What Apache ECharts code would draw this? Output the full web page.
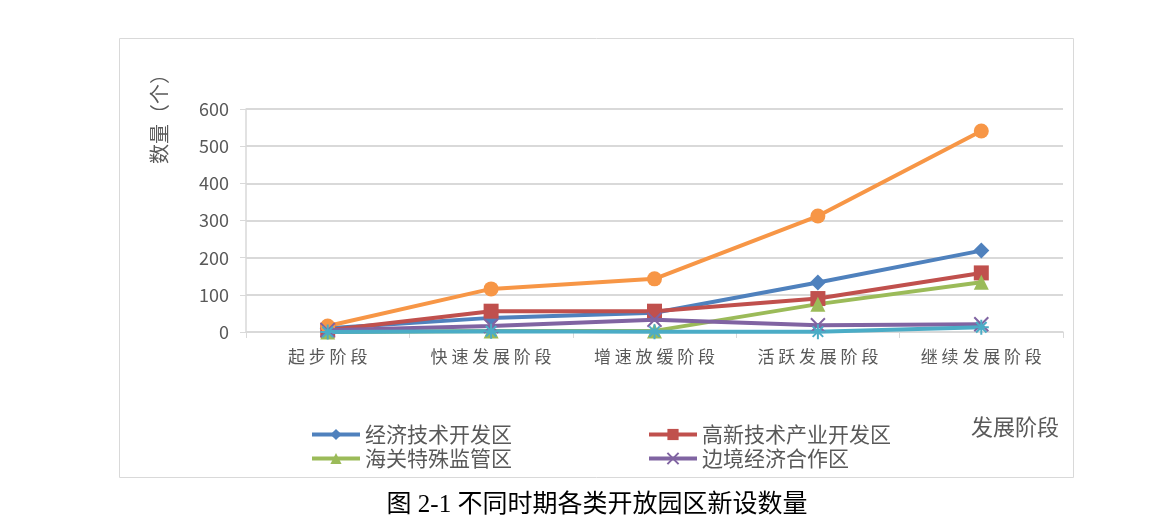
<!DOCTYPE html>
<html><head><meta charset="utf-8">
<script src="https://cdn.jsdelivr.net/npm/echarts@6/dist/echarts.min.js"></script>
<style>html,body{margin:0;padding:0;background:#fff}#c{width:1167px;height:528px}</style>
</head><body><div id="c"></div>
<script>
var categories = ['起步阶段','快速发展阶段','增速放缓阶段','活跃发展阶段','继续发展阶段'];
var yTicks = [0,100,200,300,400,500,600];
var seriesNames = ['经济技术开发区','高新技术产业开发区','海关特殊监管区','边境经济合作区','其他','合计'];
var jjkf = [10, 38, 52, 133, 219];
var gxjs = [5, 56, 56, 90, 159];
var hgtz = [0, 3, 3, 75, 134];
var bjjj = [5, 16, 33, 18, 21];
var other = [0, 2, 1, 1, 13];
var total = [16, 116, 143, 312, 541];

var spaced = function(s){ return s.split('').join(' '); };
var chart = echarts.init(document.getElementById('c'));
var font = '"Noto Sans CJK SC", "Noto Sans", sans-serif';
function mk(name, data, color, symbol, size){
  return {name:name, type:'line', data:data, symbol:symbol, symbolSize:size,
    lineStyle:{color:color,width:4}, itemStyle:{color:color}, z: 2};
}
var legText = {fontSize:21, color:'#595959', fontFamily:font};
chart.setOption({
  animation:false,
  textStyle:{fontFamily:font},
  grid:{left:246, right:104, top:109, bottom:196},
  graphic:[
    {type:'rect', shape:{x:119.5,y:38.5,width:954,height:439}, style:{fill:'none',stroke:'#d9d9d9',lineWidth:1}},
    {type:'text', x:159, y:114, rotation:Math.PI/2, style:{text:'数量（个）', fill:'#595959', font:'20px '+font, align:'center', verticalAlign:'middle'}},
    {type:'text', left:971, top:416, style:{text:'发展阶段', fill:'#595959', font:'22px '+font}},
    {type:'text', x:597, y:505, style:{text:'图 2-1 不同时期各类开放园区新设数量', fill:'#000', align:'center', verticalAlign:'middle', font:'25px "Liberation Serif", "Noto Sans CJK SC", serif'}}
  ],
  legend:[
    {data:[seriesNames[0], seriesNames[2]], orient:'vertical', left:310, top:424, padding:0, itemWidth:48, itemHeight:14, itemGap:3,
     lineStyle:{width:4}, textStyle:legText},
    {data:[seriesNames[1], seriesNames[3]], orient:'vertical', left:647, top:424, padding:0, itemWidth:48, itemHeight:14, itemGap:3,
     lineStyle:{width:4}, textStyle:legText}
  ],
  xAxis:{type:'category', data:categories, boundaryGap:true,
    axisLine:{lineStyle:{color:'#d9d9d9', width:1.5}},
    axisTick:{show:true, length:6, lineStyle:{color:'#d9d9d9'}},
    axisLabel:{formatter:spaced, color:'#595959', fontSize:17, margin:16}},
  yAxis:{type:'value', min:yTicks[0], max:yTicks[yTicks.length-1], interval:100,
    axisLine:{show:true, lineStyle:{color:'#d9d9d9', width:1.5}},
    axisTick:{show:true, length:6, lineStyle:{color:'#d9d9d9'}},
    splitLine:{lineStyle:{color:'#d9d9d9', width:2}},
    axisLabel:{color:'#595959', fontSize:18, margin:17}},
  series:[
    mk(seriesNames[0], jjkf, '#4f81bd', 'diamond', 16),
    mk(seriesNames[1], gxjs, '#c0504d', 'rect', 15),
    mk(seriesNames[2], hgtz, '#9bbb59', 'triangle', 15),
    {name:seriesNames[3], type:'line', data:bjjj, symbol:'path://M0,0L10,10M10,0L0,10', symbolSize:14,
      lineStyle:{color:'#8064a2',width:4}, itemStyle:{color:'none', borderColor:'#8064a2', borderWidth:2}},
    {name:seriesNames[4], type:'line', data:other, symbol:'path://M0,5L10,5M5,0L5,10M1.5,1.5L8.5,8.5M8.5,1.5L1.5,8.5', symbolSize:15,
      lineStyle:{color:'#4bacc6',width:4}, itemStyle:{color:'none', borderColor:'#4bacc6', borderWidth:2}},
    mk(seriesNames[5], total, '#f79646', 'circle', 15)
  ]
});
</script></body></html>
